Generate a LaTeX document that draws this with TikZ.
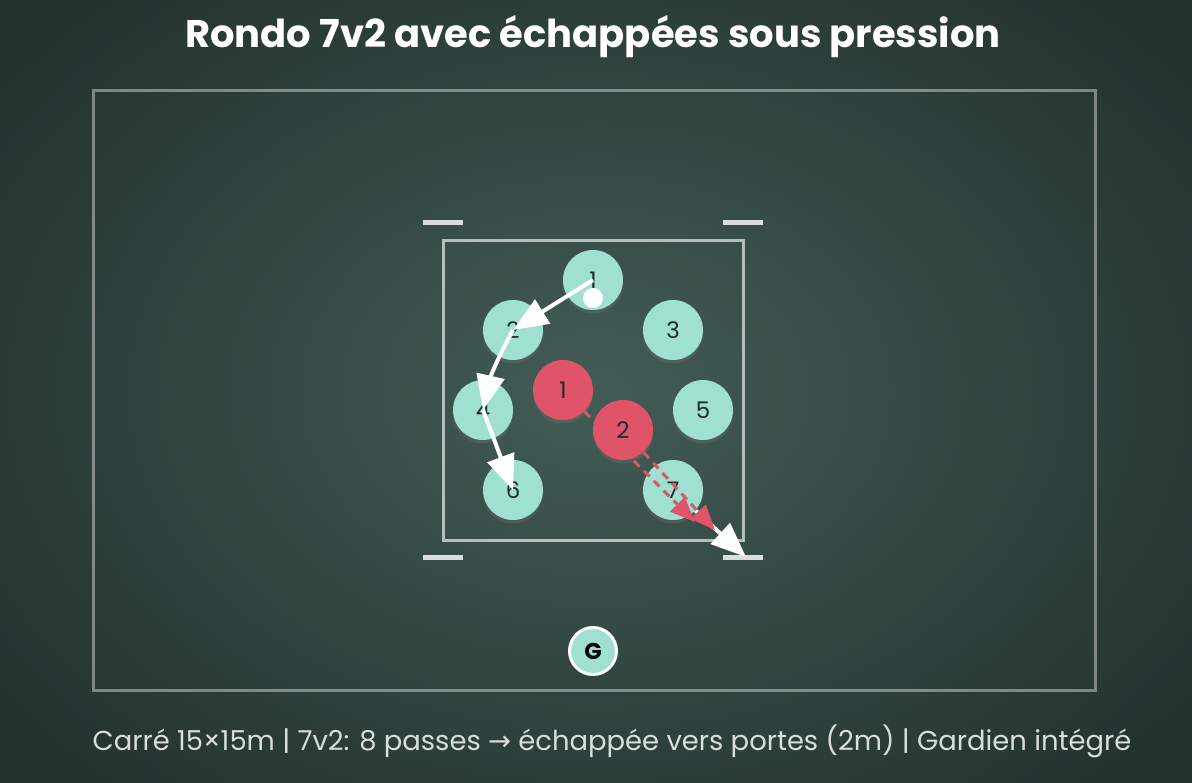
\documentclass[tikz,border=0pt]{standalone}
\usepackage{fontspec}
\setmainfont{Poppins}
\newfontfamily\symfont{DejaVu Sans}
\usetikzlibrary{arrows.meta,shadows}
\pgfdeclarelayer{bg}
\pgfdeclarelayer{mid}
\pgfsetlayers{bg,mid,main}

\definecolor{pitchin}{HTML}{425C55}
\definecolor{pitchout}{HTML}{24322E}
\definecolor{matecol}{HTML}{A0E0D0}
\definecolor{advcol}{HTML}{E0546A}
\definecolor{ink}{HTML}{1E2B2A}
\definecolor{chalk}{HTML}{D9DDDC}

\begin{document}
\begin{tikzpicture}[x=0.02cm,y=-0.02cm,
  player/.style={circle,minimum size=1.2cm,inner sep=0pt,text=ink,
    font=\fontsize{13}{13}\selectfont},
  mate/.style={player,fill=matecol,
    drop shadow={opacity=0.25,shadow xshift=0pt,shadow yshift=-2pt}},
  adv/.style={player,fill=advcol,
    drop shadow={opacity=0.25,shadow xshift=0pt,shadow yshift=-2pt}},
  gate/.style={draw=chalk,line width=0.1cm},
  pass/.style={draw=white,line width=0.08cm,-{Triangle[length=0.7cm,width=0.56cm,fill=white]}},
  press/.style={draw=advcol,line width=0.06cm,dash pattern=on 0.16cm off 0.12cm,
    -{Triangle[length=0.5cm,width=0.4cm,fill=advcol]}}]

\useasboundingbox (0,0) rectangle (1192,782);
\begin{pgfonlayer}{bg}
 \shade[inner color=pitchin,outer color=pitchout] (-150,-150) rectangle (1342,932);
 \draw[white,opacity=0.4,line width=0.06cm] (93,90) rectangle (1095,690);
 \draw[white!60!pitchin,line width=0.06cm] (443,240) rectangle (743,540);
 % portes
 \draw[gate] (423,222) -- (463,222);
 \draw[gate] (723,222) -- (763,222);
 \draw[gate] (423,557) -- (463,557);
 \draw[gate] (723,557) -- (763,557);
 % attaquants
 \foreach \n/\x/\y in {1/593/280,2/513/330,3/673/330,4/483/410,5/703/410,6/513/490,7/673/490}
   \node[mate] (p\n) at (\x,\y) {\n};
\end{pgfonlayer}

\node[font=\fontsize{21.9}{21.9}\bfseries\selectfont,text=white] (title) at (593,37)
  {Rondo 7v2 avec échappées sous pression};

\node[font=\fontsize{15.6}{15.6}\selectfont,text=chalk] (legend) at (612,741)
  {Carré 15×15m | 7v2: 8 passes {\symfont →} échappée vers portes (2m) | Gardien intégré};

\node[circle,fill=matecol,draw=white,line width=0.06cm,minimum size=0.94cm,inner sep=0pt,
  font=\fontsize{13}{13}\bfseries\selectfont,text=black] (gk) at (593,651) {G};

% défenseurs
\node[adv] (d1) at (563,390) {1};
\node[adv] (d2) at (623,430) {2};

\coordinate (goalR) at (746,557);
\coordinate (aimA) at (695,522);
\coordinate (aimB) at (715,530);

\begin{pgfonlayer}{mid}
 \draw[pass] (p7) -- (goalR);
 \draw[press] (d1) -- (aimA);
 \draw[press] (d2) -- (aimB);
\end{pgfonlayer}

% circulation
\draw[pass] (p1.center) -- (p2.center);
\draw[pass] (p2.center) to[bend right=8] (p4.center);
\draw[pass] (p4.center) -- (p6.center);

\node[circle,fill=white,minimum size=0.4cm,inner sep=0pt] (ball) at (593,298) {};

\end{tikzpicture}
\end{document}
